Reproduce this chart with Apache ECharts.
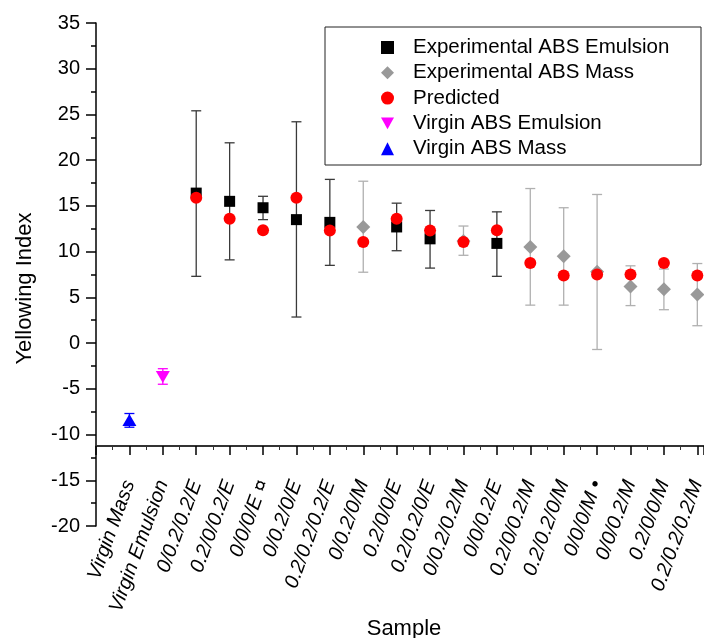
<!DOCTYPE html>
<html><head><meta charset="utf-8">
<script src="https://cdn.jsdelivr.net/npm/echarts@6/dist/echarts.min.js"></script>
<style>html,body{margin:0;padding:0;background:#fff}#c{width:704px;height:638px}</style>
</head><body><div id="c"></div><script>
const categories = ['Virgin Mass','Virgin Emulsion','0/0.2/0.2/E','0.2/0/0.2/E','0/0/0/E \u00a4','0/0.2/0/E','0.2/0.2/0.2/E','0/0.2/0/M','0.2/0/0/E','0.2/0.2/0/E','0/0.2/0.2/M','0/0/0.2/E','0.2/0/0.2/M','0.2/0.2/0/M','0/0/0/M \u2022','0/0/0.2/M','0.2/0/0/M','0.2/0.2/0.2/M'];
const yTicks = [-20,-15,-10,-5,0,5,10,15,20,25,30,35];

const expEmulsionX = [3,4,5,6,7,9,10,12];
const expEmulsionY = [16.4,15.5,14.8,13.5,13.2,12.7,11.4,10.9];
const expEmulsionLow = [7.3,9.1,13.5,2.85,8.5,10.1,8.2,7.3];
const expEmulsionHigh = [25.4,21.9,16.05,24.2,17.9,15.3,14.5,14.35];

const expMassX = [8,11,13,14,15,16,17,18];
const expMassY = [12.7,11.15,10.5,9.5,7.8,6.2,5.9,5.3];
const expMassLow = [7.75,9.6,4.15,4.15,-0.7,4.1,3.65,1.9];
const expMassHigh = [17.7,12.8,16.9,14.8,16.25,8.45,8.1,8.7];

const predictedX = [3,4,5,6,7,8,9,10,11,12,13,14,15,16,17,18];
const predictedY = [15.9,13.6,12.35,15.9,12.3,11.05,13.6,12.3,11.05,12.35,8.75,7.4,7.5,7.5,8.75,7.4];

const virginEmulsionX = [2];
const virginEmulsionY = [-3.7];
const virginEmulsionLow = [-4.5];
const virginEmulsionHigh = [-2.8];

const virginMassX = [1];
const virginMassY = [-8.4];
const virginMassLow = [-9.2];
const virginMassHigh = [-7.7];

const FONT = 'Liberation Sans, Arial, sans-serif';
const zip2 = (a,b) => a.map((v,i)=>[v,b[i]]);
const zip3 = (a,b,c) => a.map((v,i)=>[v,b[i],c[i]]);

function errRender(color){
  return function(params, api){
    const x = api.value(0), lo = api.value(1), hi = api.value(2);
    const p1 = api.coord([x, hi]), p2 = api.coord([x, lo]);
    const w = 5;
    const st = {stroke: color, lineWidth: 1.3};
    return {type:'group', children:[
      {type:'line', shape:{x1:p1[0],y1:p1[1],x2:p2[0],y2:p2[1]}, style:st},
      {type:'line', shape:{x1:p1[0]-w,y1:p1[1],x2:p1[0]+w,y2:p1[1]}, style:st},
      {type:'line', shape:{x1:p2[0]-w,y1:p2[1],x2:p2[0]+w,y2:p2[1]}, style:st}
    ]};
  };
}
function errSeries(xs, lo, hi, color){
  return {type:'custom', silent:true, renderItem: errRender(color), encode:{x:0,y:[1,2]}, data: zip3(xs, lo, hi), z:1};
}
const triDown = 'path://M0,0 L10,0 L5,9 Z';

const chart = echarts.init(document.getElementById('c'), null, {renderer:'canvas'});
chart.setOption({
  animation:false,
  backgroundColor:'#fff',
  grid:{left:96, right:0, top:23, bottom:112, containLabel:false, outerBoundsMode:'none'},
  graphic:[{type:'rect', shape:{x:325, y:27, width:376, height:138}, style:{fill:'none', stroke:'#222', lineWidth:1}, z:10}],
  legend:{
    left:376, top:32, orient:'vertical', itemWidth:13, itemHeight:13, itemGap:4.3,
    textStyle:{fontFamily:FONT, fontSize:20.5, color:'#000', padding:[0,0,0,14], lineHeight:20},
    data:[
      {name:'Experimental ABS Emulsion', icon:'rect', itemStyle:{color:'#000'}},
      {name:'Experimental ABS Mass', icon:'diamond'},
      {name:'Predicted', icon:'circle'},
      {name:'Virgin ABS Emulsion', icon:triDown},
      {name:'Virgin ABS Mass', icon:'triangle'}
    ]
  },
  xAxis:{
    type:'value', min:0, max:18.2, interval:1, offset:-80,
    name:'Sample', nameLocation:'middle', nameGap:172, nameMoveOverlap:false,
    nameTextStyle:{fontFamily:FONT, fontSize:22, color:'#000', padding:[0,0,0,8]},
    axisLine:{show:true, onZero:false, lineStyle:{color:'#333', width:2}},
    axisTick:{show:true, length:9, lineStyle:{color:'#000', width:1.5}},
    minorTick:{show:true, splitNumber:2, length:4, lineStyle:{color:'#333', width:1}},
    splitLine:{show:false},
    axisLabel:{rotate:70, margin:35, fontFamily:FONT, fontSize:20, fontStyle:'italic', color:'#000', showMaxLabel:false,
      formatter: v => (Number.isInteger(v) && v>=1 && v<=categories.length) ? categories[v-1] : ''}
  },
  yAxis:{
    type:'value', min:-20, max:35, interval:5,
    name:'Yellowing Index', nameLocation:'middle', nameGap:60, nameMoveOverlap:false,
    nameTextStyle:{fontFamily:FONT, fontSize:22, color:'#000', padding:[0,28,0,0]},
    axisLine:{show:true, lineStyle:{color:'#000', width:1.5}},
    axisTick:{show:true, length:10, lineStyle:{color:'#000', width:1.5}},
    minorTick:{show:true, splitNumber:2, length:5, lineStyle:{color:'#000', width:1.5}},
    splitLine:{show:false},
    axisLabel:{margin:16, fontFamily:FONT, fontSize:20, color:'#000',
      formatter: v => yTicks.includes(v) ? String(v) : ''}
  },
  series:[
    errSeries(expEmulsionX, expEmulsionLow, expEmulsionHigh, '#3a3a3a'),
    errSeries(expMassX, expMassLow, expMassHigh, '#b0b0b0'),
    errSeries(virginEmulsionX, virginEmulsionLow, virginEmulsionHigh, '#ff00ff'),
    errSeries(virginMassX, virginMassLow, virginMassHigh, '#0000ff'),
    {name:'Experimental ABS Emulsion', type:'scatter', symbol:'rect', symbolSize:11, itemStyle:{color:'#000', opacity:1}, data:zip2(expEmulsionX, expEmulsionY), z:3},
    {name:'Experimental ABS Mass', type:'scatter', symbol:'diamond', symbolSize:14, itemStyle:{color:'#999', opacity:1}, data:zip2(expMassX, expMassY), z:3},
    {name:'Predicted', type:'scatter', symbol:'circle', symbolSize:12, itemStyle:{color:'#ff0000', opacity:1}, data:zip2(predictedX, predictedY), z:4},
    {name:'Virgin ABS Emulsion', type:'scatter', symbol:triDown, symbolSize:[14,12], itemStyle:{color:'#ff00ff', opacity:1}, data:zip2(virginEmulsionX, virginEmulsionY), z:3},
    {name:'Virgin ABS Mass', type:'scatter', symbol:'triangle', symbolSize:[14,12], itemStyle:{color:'#0000ff', opacity:1}, data:zip2(virginMassX, virginMassY), z:3}
  ]
});
</script></body></html>
